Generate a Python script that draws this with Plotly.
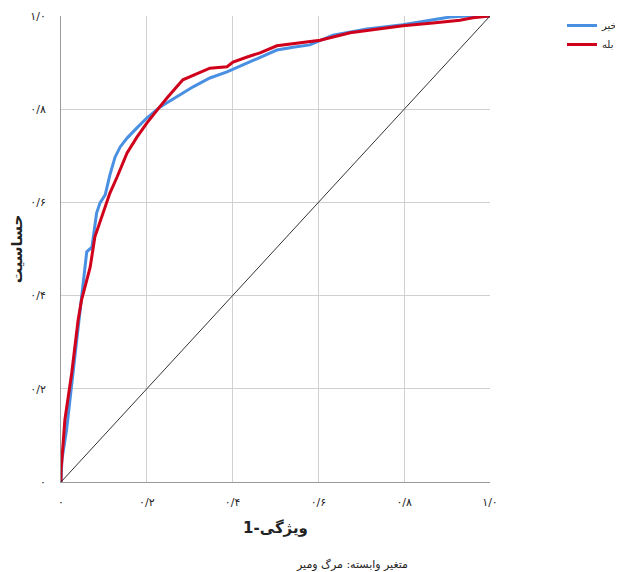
import plotly.graph_objects as go

# ROC curves (1 - specificity, sensitivity)
no_x = [0, 0.002, 0.013, 0.026, 0.044, 0.060, 0.072, 0.083, 0.091, 0.103, 0.114, 0.126, 0.138,
        0.154, 0.177, 0.200, 0.231, 0.270, 0.308, 0.347, 0.387, 0.424, 0.464, 0.503, 0.541,
        0.580, 0.634, 0.713, 0.797, 0.867, 0.907, 0.946, 1]
no_y = [0, 0.047, 0.112, 0.219, 0.376, 0.494, 0.504, 0.577, 0.599, 0.616, 0.659, 0.697, 0.719,
        0.738, 0.760, 0.781, 0.805, 0.826, 0.848, 0.867, 0.880, 0.895, 0.912, 0.927, 0.933,
        0.938, 0.959, 0.972, 0.981, 0.991, 0.998, 1.0, 1]

yes_x = [0, 0, 0.002, 0.009, 0.025, 0.040, 0.048, 0.068, 0.079, 0.098, 0.114, 0.131, 0.154,
         0.177, 0.200, 0.224, 0.247, 0.284, 0.308, 0.347, 0.387, 0.401, 0.434, 0.464, 0.503,
         0.541, 0.580, 0.604, 0.674, 0.751, 0.797, 0.867, 0.930, 0.960, 1]
yes_y = [0, 0.026, 0.047, 0.133, 0.234, 0.348, 0.391, 0.461, 0.526, 0.577, 0.620, 0.655, 0.706,
         0.740, 0.770, 0.798, 0.824, 0.863, 0.873, 0.888, 0.891, 0.901, 0.912, 0.921, 0.936,
         0.940, 0.944, 0.948, 0.964, 0.974, 0.979, 0.985, 0.991, 0.996, 1]

ref_line = [0, 1]

tick_vals = [0, 0.2, 0.4, 0.6, 0.8, 1.0]
tick_text = ["۰", "۰/۲", "۰/۴", "۰/۶", "۰/۸", "۱/۰"]

FONT = "DejaVu Sans, Arial, sans-serif"

fig = go.Figure()

fig.add_trace(go.Scatter(
    x=no_x, y=no_y, mode="lines", name="خیر",
    line=dict(color="#4a90e2", width=3),
))
fig.add_trace(go.Scatter(
    x=yes_x, y=yes_y, mode="lines", name="بله",
    line=dict(color="#d0021b", width=3),
))
fig.add_trace(go.Scatter(
    x=ref_line, y=ref_line, mode="lines", showlegend=False,
    line=dict(color="#333333", width=1),
))

axis_common = dict(
    range=[0, 1], tickvals=tick_vals, ticktext=tick_text,
    showgrid=True, gridcolor="#d0d0d0", gridwidth=1,
    showline=True, linecolor="#999999", linewidth=1,
    zeroline=False, ticks="", tickfont=dict(size=11, color="#222"),
    automargin=False,
)

# page body adds an 8px offset, so the figure is sized to fit the window
fig.update_layout(
    width=615, height=564,
    margin=dict(l=53, r=133, t=8, b=90, autoexpand=False),
    paper_bgcolor="white", plot_bgcolor="white",
    font=dict(family=FONT, color="#222"),
    xaxis=dict(axis_common, ticklabelstandoff=10,
               title=dict(text="<b>ویژگی-1</b>", font=dict(size=15), standoff=14)),
    yaxis=dict(axis_common, ticklabelstandoff=12,
               title=dict(text="<b>حساسیت</b>", font=dict(size=15), standoff=12)),
    legend=dict(x=1.0, y=0.9947, xref="container", yref="container",
                xanchor="right", yanchor="top",
                font=dict(size=10), bgcolor="rgba(0,0,0,0)", tracegroupgap=0),
    showlegend=True,
    annotations=[dict(
        text="متغیر وابسته: مرگ ومیر", xref="paper", yref="paper",
        x=0.678, y=-0.178, xanchor="center", yanchor="middle",
        showarrow=False, font=dict(size=11),
    )],
)

fig.write_html("out.html")
